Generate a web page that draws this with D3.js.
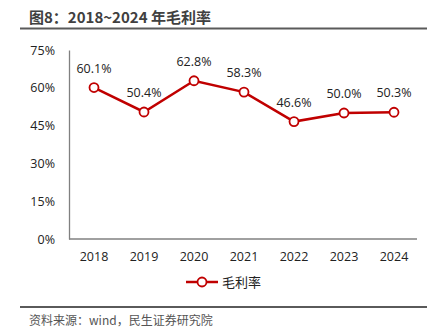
<!DOCTYPE html>
<html>
<head>
<meta charset="utf-8">
<script src="https://cdn.jsdelivr.net/npm/d3@7"></script>
<style>
  body { margin: 0; background: #fff; }
  svg { display: block; font-family: "Noto Sans CJK SC", "Open Sans", sans-serif; }
</style>
</head>
<body>
<svg id="chart" width="439" height="336"></svg>
<script>
// 年份和毛利率
const years = ["2018", "2019", "2020", "2021", "2022", "2023", "2024"];
const margins = [60.1, 50.4, 62.8, 58.3, 46.6, 50.0, 50.3];
const yTicks = [0, 15, 30, 45, 60, 75];

const svg = d3.select("#chart");
const plotLeft = 69, plotRight = 419, plotTop = 50, plotBottom = 239;
const red = "#C00000";

// 标题
svg.append("text")
    .attr("x", 29).attr("y", 23)
    .style("font-size", "15px").style("font-weight", "bold").style("fill", "#404040")
    .text("图8：2018~2024 年毛利率");
svg.append("line")
    .attr("x1", 20).attr("x2", 427).attr("y1", 28.5).attr("y2", 28.5)
    .style("stroke", "#5a5a5a").style("stroke-width", 2);

const x = d3.scaleBand().domain(years).range([plotLeft, plotRight]);
const y = d3.scaleLinear().domain([0, 75]).range([plotBottom, plotTop]);

// y轴
const yAxis = svg.append("g")
    .attr("transform", `translate(${plotLeft},0)`)
    .call(d3.axisLeft(y).tickValues(yTicks).tickSize(0).tickPadding(14).tickFormat(d => d + "%"));
yAxis.select(".domain").style("stroke", "#808080").style("stroke-width", 1.3);
yAxis.selectAll("text").style("font-size", "12.5px").style("fill", "#222")
    .style("font-family", "'Open Sans', sans-serif");

// x轴
const xAxis = svg.append("g")
    .attr("transform", `translate(0,${plotBottom})`)
    .call(d3.axisBottom(x).tickSize(0).tickPadding(13));
xAxis.select(".domain").attr("d", `M${plotLeft},0H${plotRight - 2}`).style("stroke", "#808080").style("stroke-width", 1.3);
xAxis.selectAll("text").style("font-size", "12.5px").style("fill", "#222")
    .style("font-family", "'Open Sans', sans-serif");

const cx = d => x(d) + x.bandwidth() / 2;

// 折线
const line = d3.line()
    .x((d, i) => cx(years[i]))
    .y(d => y(d));
svg.append("path")
    .datum(margins)
    .attr("d", line)
    .style("fill", "none").style("stroke", red).style("stroke-width", 2.5);

svg.selectAll(".pt")
    .data(margins)
    .enter().append("circle")
    .attr("class", "pt")
    .attr("cx", (d, i) => cx(years[i]))
    .attr("cy", d => y(d))
    .attr("r", 4.5)
    .style("fill", "#fff").style("stroke", red).style("stroke-width", 1.8);

// 数据标签
svg.selectAll(".lbl")
    .data(margins)
    .enter().append("text")
    .attr("class", "lbl")
    .attr("x", (d, i) => cx(years[i]))
    .attr("y", d => y(d) - 15)
    .attr("text-anchor", "middle")
    .style("font-size", "12.5px").style("fill", "#222")
    .style("font-family", "'Open Sans', sans-serif")
    .text(d => d.toFixed(1) + "%");

// 图例
const lg = svg.append("g").attr("transform", "translate(186,282)");
lg.append("line").attr("x1", 0).attr("x2", 32).attr("y1", 0).attr("y2", 0)
    .style("stroke", red).style("stroke-width", 2.5);
lg.append("circle").attr("cx", 16).attr("cy", 0).attr("r", 4.5)
    .style("fill", "#fff").style("stroke", red).style("stroke-width", 1.8);
lg.append("text").attr("x", 36).attr("y", 5)
    .style("font-size", "13px").style("fill", "#222")
    .text("毛利率");

// 底部
svg.append("line")
    .attr("x1", 20).attr("x2", 427).attr("y1", 307).attr("y2", 307)
    .style("stroke", "#5a5a5a").style("stroke-width", 2);
svg.append("text")
    .attr("x", 29).attr("y", 325)
    .style("font-size", "12px").style("fill", "#555")
    .text("资料来源：wind，民生证券研究院");
</script>
</body>
</html>
